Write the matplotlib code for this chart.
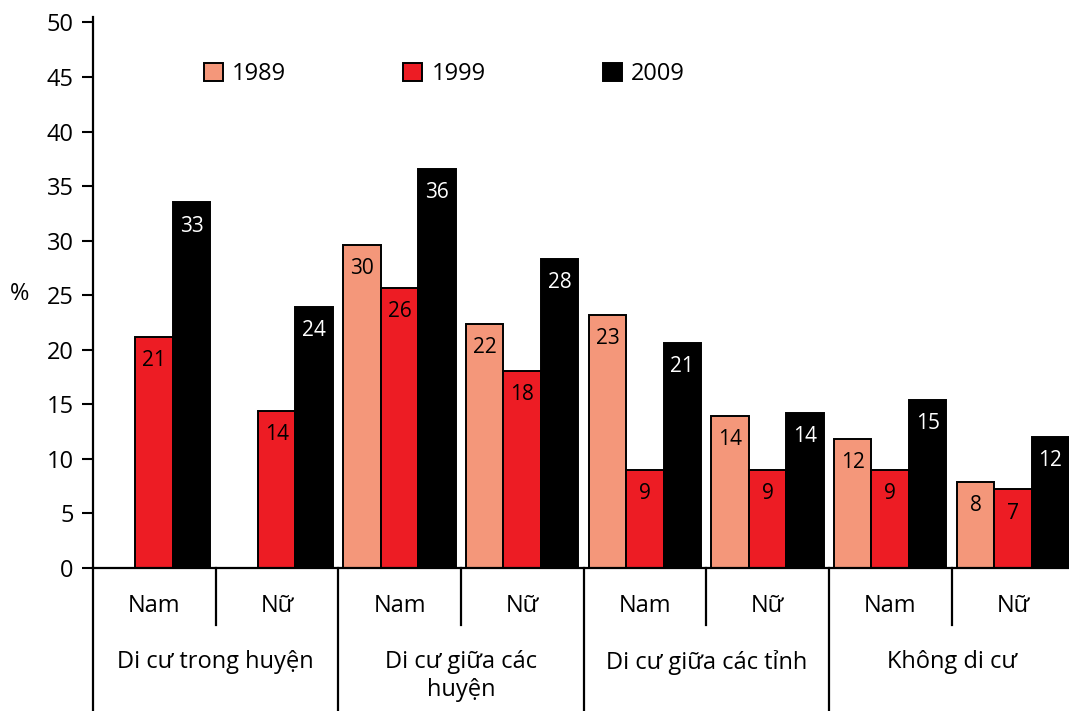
import matplotlib
matplotlib.use("Agg")
import matplotlib.pyplot as plt
from matplotlib.patches import Patch
import numpy as np

plt.rcParams["font.family"] = ["Open Sans", "DejaVu Sans"]

# --- data ---------------------------------------------------------------------
groups = ["Di cư trong huyện", "Di cư giữa các\nhuyện", "Di cư giữa các tỉnh", "Không di cư"]
sexes = ["Nam", "Nữ"]
years = ["1989", "1999", "2009"]

v1989 = [np.nan, np.nan, 29.6, 22.4, 23.2, 13.9, 11.8, 7.9]
v1999 = [21.2, 14.4, 25.7, 18.1, 9.0, 9.0, 9.0, 7.2]
v2009 = [33.5, 23.9, 36.6, 28.3, 20.6, 14.2, 15.4, 12.0]

lab1989 = ["", "", "30", "22", "23", "14", "12", "8"]
lab1999 = ["21", "14", "26", "18", "9", "9", "9", "7"]
lab2009 = ["33", "24", "36", "28", "21", "14", "15", "12"]

colors = ["#F4977A", "#ED1C24", "#000000"]
text_colors = ["black", "black", "white"]

# --- figure -------------------------------------------------------------------
W, H = 1069, 711
fig = plt.figure(figsize=(W / 100, H / 100), dpi=100)
ax = fig.add_axes([93 / W, (H - 568) / H, (W - 93) / W, (568 - 17) / H])

n = len(v2009)
x = np.arange(n)
bw = 0.305
off = 0.04
series = [(v1989, lab1989), (v1999, lab1999), (v2009, lab2009)]
for k, (vals, labs) in enumerate(series):
    pos = x + off + bw * (k + 0.5)
    ax.bar(pos, vals, bw, color=colors[k], edgecolor="black", linewidth=1.4,
           label=years[k], zorder=2)
    for p, v, t in zip(pos, vals, labs):
        if t:
            ax.annotate(t, (p, v), xytext=(0, -17), textcoords="offset points",
                        ha="center", va="center", fontsize=15, color=text_colors[k])

ax.set_xlim(0, off + 3 * bw + (n - 1))
ax.set_ylim(0, 50.5)
ax.set_yticks(np.arange(0, 51, 5))
ax.set_xticks([])
ax.tick_params(axis="y", length=8, width=1.5, labelsize=17, pad=6)
for s in ["top", "right"]:
    ax.spines[s].set_visible(False)
ax.spines["left"].set_linewidth(1.6)
ax.spines["bottom"].set_linewidth(1.6)
ax.set_ylabel("%", rotation=0, fontsize=17, va="center", ha="center")
ax.yaxis.set_label_coords(-0.075, 0.497)

# category axis: dividers and labels below the bars
y_short = -5.2
y_long = -13.1
for i in range(n):
    ylow = y_long if i % 2 == 0 else y_short
    ax.plot([i, i], [0, ylow], color="black", lw=1.6, clip_on=False)
for i in range(n):
    ax.text(i + 0.5, -3.5, sexes[i % 2], ha="center", va="center", fontsize=17)
for g, name in enumerate(groups):
    ax.text(2 * g + 1, -7.5, name, ha="center", va="top", fontsize=17,
            linespacing=1.25)

handles = [Patch(facecolor=c, edgecolor="black", linewidth=1.4) for c in colors]
ax.legend(handles, years, loc="center left", bbox_to_anchor=(0.104, 0.897),
          ncol=3, frameon=False, fontsize=17, handlelength=0.8, handleheight=0.8,
          handletextpad=0.4, columnspacing=4.95, borderaxespad=0)

fig.savefig("out.png", dpi=100)
